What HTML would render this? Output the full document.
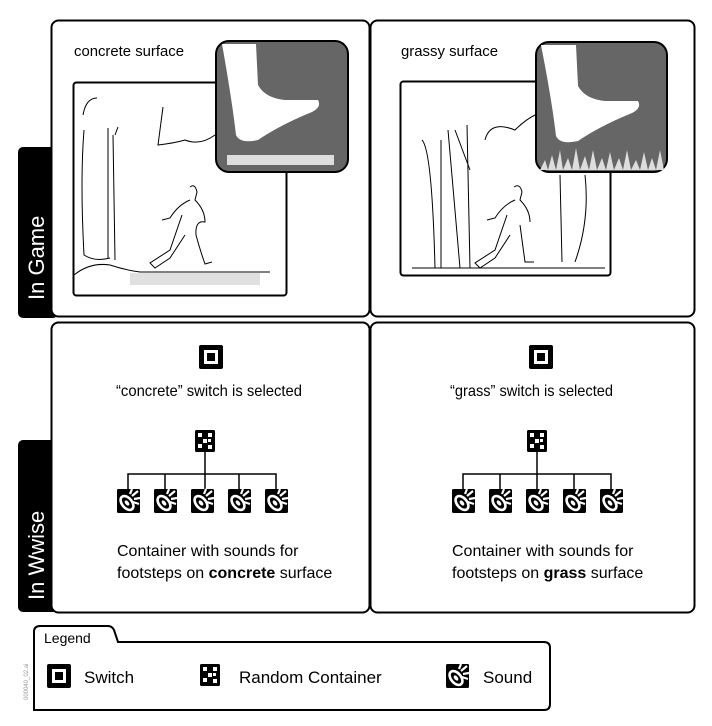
<!DOCTYPE html>
<html><head><meta charset="utf-8"><style>
html,body{margin:0;padding:0;background:#fff;}
svg{display:block;font-family:"Liberation Sans",sans-serif;}
</style></head><body>
<svg width="712" height="726" viewBox="0 0 712 726" xmlns="http://www.w3.org/2000/svg">
<defs>
<g id="snd">
  <rect x="0" y="0" width="23" height="24" rx="1.5" fill="#000"/>
  <ellipse cx="10" cy="14" rx="5" ry="8" transform="rotate(-40 10 14)" fill="none" stroke="#fff" stroke-width="2.6"/>
  <ellipse cx="10" cy="14" rx="1.8" ry="3" transform="rotate(-40 10 14)" fill="#fff"/>
  <path d="M15 7 L21 2 M17 10 L23 9 M16 13 L22 15 M13 5 L15 0" stroke="#fff" stroke-width="2.2"/>
</g>
<g id="rnd">
  <rect x="0" y="0" width="20" height="22" rx="1.5" fill="#000"/>
  <rect x="3" y="3" width="4" height="4" fill="#fff"/><rect x="13" y="3" width="4" height="4" fill="#fff"/>
  <rect x="8" y="9" width="4" height="4" fill="#fff"/><rect x="13" y="9" width="3" height="3" fill="#fff"/>
  <rect x="3" y="14" width="4" height="4" fill="#fff"/><rect x="13" y="15" width="4" height="4" fill="#fff"/>
</g>
<g id="sw">
  <rect x="0" y="0" width="24" height="24" rx="2" fill="#000"/>
  <rect x="5" y="5" width="14" height="14" fill="#fff"/>
  <rect x="8" y="8" width="8" height="8" fill="#000"/>
</g>
</defs>

<rect x="18" y="147" width="40" height="171" rx="5" fill="#000"/>
<text transform="translate(44 300) rotate(-90)" font-size="22" fill="#fff">In Game</text>
<rect x="18" y="440" width="40" height="172" rx="5" fill="#000"/>
<text transform="translate(44 600) rotate(-90)" font-size="22" fill="#fff">In Wwise</text>

<rect x="51.5" y="20.5" width="318" height="296" rx="7" fill="#fff" stroke="#000" stroke-width="2"/>
<rect x="370.5" y="20.5" width="324" height="296" rx="7" fill="#fff" stroke="#000" stroke-width="2"/>
<rect x="51.5" y="322.5" width="318" height="290" rx="7" fill="#fff" stroke="#000" stroke-width="2"/>
<rect x="370.5" y="322.5" width="324" height="290" rx="7" fill="#fff" stroke="#000" stroke-width="2"/>

<text x="74" y="56" font-size="15" textLength="110" lengthAdjust="spacingAndGlyphs">concrete surface</text>
<rect x="73.5" y="82.5" width="213" height="213" rx="3" fill="#fff" stroke="#000" stroke-width="2"/>
<g fill="none" stroke="#000" stroke-width="1">
  <path d="M83 115 Q86 98 97 98 M84 130 Q80 180 84 255 Q95 262 110 258 M108 128 L108 258 M113 135 L115 260 M115 135 L118 127"/>
  <path d="M74 275 Q90 262 110 265 Q125 270 140 272 L270 272"/>
  <path d="M163 107 L158 145 Q175 143 185 140 Q200 146 215 135"/>
  <path d="M190 187 Q195 183 197 192 L195 200 Q205 210 205 222 Q195 220 196 235 Q200 250 205 264 L212 262 M190 200 Q178 205 170 218 L162 220 M182 215 L170 250 L150 263 L155 268 L170 258 L185 235"/>
</g>
<rect x="130" y="273" width="130" height="12" fill="#ccc" opacity="0.6"/>
<rect x="216" y="41" width="132" height="131" rx="13" fill="#666" stroke="#000" stroke-width="2"/>
<path d="M222 44 L256 44 L258 85 Q265 98 285 100 L318 100 Q322 107 312 112 Q280 125 258 140 Q240 144 236 135 Q232 100 222 44 Z" fill="#fff"/>
<rect x="227" y="155" width="107" height="10" fill="#ddd"/>

<text x="401" y="56" font-size="15" textLength="97" lengthAdjust="spacingAndGlyphs">grassy surface</text>
<rect x="400.5" y="81.5" width="210" height="194" rx="3" fill="#fff" stroke="#000" stroke-width="2"/>
<g fill="none" stroke="#000" stroke-width="1">
  <path d="M422 140 Q432 150 435 268 M441 140 L441 268 M448 130 L460 268 M455 130 L470 170 M467 125 L470 268 M485 140 Q490 120 515 130 Q525 120 535 115"/>
  <path d="M412 268 L605 268 M560 175 L562 262 M585 175 Q590 220 575 262"/>
  <path d="M514 187 Q520 183 522 192 L520 200 Q530 210 530 222 M515 200 Q503 205 495 218 L487 220 M507 215 L495 250 L475 263 L480 268 L495 258 L510 235 M520 225 L525 262 L534 262"/>
</g>
<rect x="536" y="42" width="131" height="130" rx="13" fill="#666" stroke="#000" stroke-width="2"/>
<path d="M541 45 L576 45 L578 86 Q585 99 605 101 L638 101 Q642 108 632 113 Q600 126 578 141 Q560 145 556 136 Q552 101 541 45 Z" fill="#fff"/>
<path d="M540 170 L545 160 L548 170 L552 155 L556 170 L560 150 L563 170 L568 158 L572 170 L576 148 L580 170 L585 156 L589 170 L593 150 L597 170 L602 158 L606 170 L610 152 L614 170 L619 158 L623 170 L627 150 L631 170 L636 160 L640 170 L644 152 L648 170 L652 158 L656 170 L660 150 L664 170 Z" fill="#ddd"/>

<use href="#sw" x="199" y="345"/>
<text x="116" y="396" font-size="16" textLength="186" lengthAdjust="spacingAndGlyphs">“concrete” switch is selected</text>
<use href="#rnd" x="195" y="430"/>
<path d="M205 452 L205 474 M128 489 L128 474 L276 474 L276 489 M165 474 L165 489 M239 474 L239 489 M205 474 L205 489" fill="none" stroke="#000" stroke-width="1.5"/>
<use href="#snd" x="117" y="489"/><use href="#snd" x="154" y="489"/><use href="#snd" x="191" y="489"/><use href="#snd" x="228" y="489"/><use href="#snd" x="265" y="489"/>
<text x="117" y="556" font-size="16">Container with sounds for</text>
<text x="117" y="578" font-size="16">footsteps on <tspan font-weight="bold">concrete</tspan> surface</text>

<use href="#sw" x="529" y="345"/>
<text x="450" y="396" font-size="16" textLength="163" lengthAdjust="spacingAndGlyphs">“grass” switch is selected</text>
<use href="#rnd" x="527" y="430"/>
<path d="M537 452 L537 474 M463 489 L463 474 L611 474 L611 489 M500 474 L500 489 M574 474 L574 489 M537 474 L537 489" fill="none" stroke="#000" stroke-width="1.5"/>
<use href="#snd" x="452" y="489"/><use href="#snd" x="489" y="489"/><use href="#snd" x="526" y="489"/><use href="#snd" x="563" y="489"/><use href="#snd" x="600" y="489"/>
<text x="452" y="556" font-size="16">Container with sounds for</text>
<text x="452" y="578" font-size="16">footsteps on <tspan font-weight="bold">grass</tspan> surface</text>

<path d="M34 710 L34 632 Q34 626 40 626 L108 626 Q112 626 114 630 L118 642 L544 642 Q550 642 550 648 L550 704 Q550 710 544 710 Z" fill="#fff" stroke="#000" stroke-width="2"/>
<text x="44" y="643" font-size="14">Legend</text>
<use href="#sw" x="47" y="664"/>
<text x="84" y="683" font-size="17">Switch</text>
<use href="#rnd" x="200" y="664"/>
<text x="239" y="683" font-size="17">Random Container</text>
<use href="#snd" x="446" y="664"/>
<text x="483" y="683" font-size="17">Sound</text>
<text transform="translate(28 700) rotate(-90)" font-size="6" fill="#999">000040_02.ai</text>
</svg>
</body></html>
